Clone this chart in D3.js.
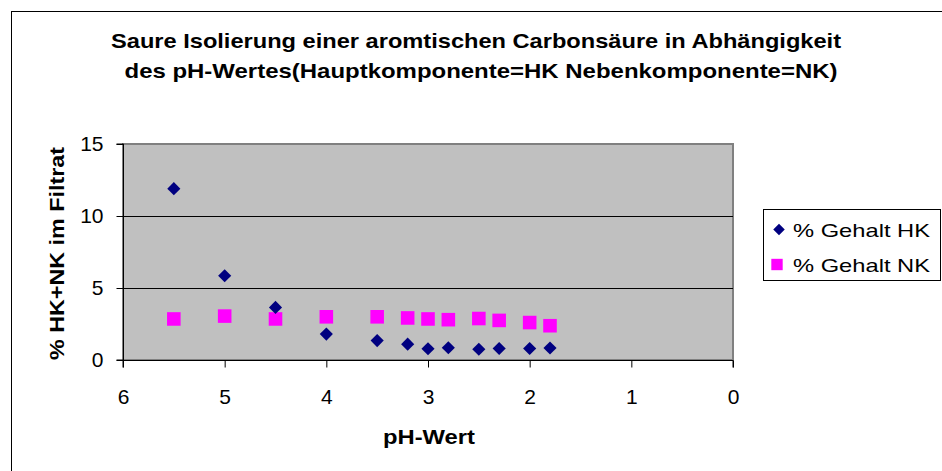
<!DOCTYPE html>
<html>
<head>
<meta charset="utf-8">
<script src="https://cdn.jsdelivr.net/npm/d3@7"></script>
<style>
  html, body { margin: 0; padding: 0; background: #fff; }
  svg { display: block; }
  text { font-family: "Liberation Sans", Arial, sans-serif; }
</style>
</head>
<body>
<svg id="chart" width="942" height="471"></svg>
<script>
// pH values of the filtrate
const phValues = [5.5, 5, 4.5, 4, 3.5, 3.2, 3, 2.8, 2.5, 2.3, 2, 1.8];
// % content of main component (HK)
const gehaltHK = [11.9, 5.85, 3.65, 1.8, 1.35, 1.1, 0.78, 0.85, 0.75, 0.8, 0.8, 0.83];
// % content of side component (NK)
const gehaltNK = [2.85, 3.05, 2.85, 3.0, 3.0, 2.92, 2.85, 2.8, 2.88, 2.75, 2.6, 2.38];
const xTicks = [6, 5, 4, 3, 2, 1, 0];
const yTicks = [0, 5, 10, 15];
const titleLines = [
  "Saure Isolierung einer aromtischen Carbonsäure in Abhängigkeit",
  "des pH-Wertes(Hauptkomponente=HK Nebenkomponente=NK)"
];
const seriesNames = ["% Gehalt HK", "% Gehalt NK"];

const svg = d3.select("#chart");
const plot = { left: 123, right: 733, top: 144, bottom: 360 };

const x = d3.scaleLinear().domain([6, 0]).range([plot.left, plot.right]);
const y = d3.scaleLinear().domain([0, 15]).range([plot.bottom, plot.top]);

// outer chart frame
svg.append("rect")
  .attr("x", 11.5).attr("y", 11.5)
  .attr("width", 940).attr("height", 470)
  .attr("fill", "#fff").attr("stroke", "#000").attr("stroke-width", 1);

// title (two centred lines)
const titleLayout = [
  { cx: 476, y: 48, len: 730 },
  { cx: 481, y: 78, len: 713 }
];
svg.append("g").selectAll("text").data(titleLines).join("text")
  .attr("x", (d, i) => titleLayout[i].cx)
  .attr("y", (d, i) => titleLayout[i].y)
  .attr("text-anchor", "middle")
  .attr("font-size", 20.5).attr("font-weight", "bold")
  .attr("textLength", (d, i) => titleLayout[i].len)
  .attr("lengthAdjust", "spacingAndGlyphs")
  .text(d => d);

// plot background
svg.append("rect")
  .attr("x", plot.left).attr("y", plot.top)
  .attr("width", plot.right - plot.left).attr("height", plot.bottom - plot.top)
  .attr("fill", "#c0c0c0").attr("stroke", "#808080").attr("stroke-width", 2);

// horizontal gridlines
svg.append("g").selectAll("line")
  .data(yTicks.filter(t => t > 0 && t < 15)).join("line")
  .attr("x1", plot.left).attr("x2", plot.right)
  .attr("y1", d => Math.round(y(d)) + 0.5).attr("y2", d => Math.round(y(d)) + 0.5)
  .attr("stroke", "#000").attr("stroke-width", 1);

// axes
const yAxis = d3.axisLeft(y).tickValues(yTicks).tickSize(7).tickPadding(13).tickFormat(d3.format("d"));
const xAxis = d3.axisBottom(x).tickValues(xTicks).tickSize(7).tickPadding(22).tickFormat(d3.format("d"));

const gy = svg.append("g").attr("transform", `translate(${plot.left + 0.5},0)`).call(yAxis);
const gx = svg.append("g").attr("transform", `translate(0,${plot.bottom + 0.5})`).call(xAxis);
[gx, gy].forEach(g => {
  g.select(".domain").attr("stroke", "#000").attr("stroke-width", 1);
  g.selectAll(".tick line").attr("stroke", "#000");
  g.selectAll(".tick text").attr("font-size", 21).attr("fill", "#000")
    .attr("font-family", "'Liberation Sans', Arial, sans-serif");
});
gy.select(".domain").attr("d", `M-7,${y(15)}H0V${y(0)}H-7`);
gx.select(".domain").attr("d", `M${x(6)},7V0H${x(0)}V7`);

// axis titles
svg.append("text")
  .attr("x", 429).attr("y", 444)
  .attr("text-anchor", "middle")
  .attr("font-size", 20.5).attr("font-weight", "bold")
  .attr("textLength", 92).attr("lengthAdjust", "spacingAndGlyphs")
  .text("pH-Wert");

svg.append("text")
  .attr("transform", "translate(64,253.5) rotate(-90)")
  .attr("text-anchor", "middle")
  .attr("font-size", 20.5).attr("font-weight", "bold")
  .attr("textLength", 213).attr("lengthAdjust", "spacingAndGlyphs")
  .text("% HK+NK im Filtrat");

// data markers
const diamond = d3.symbol().type(d3.symbolDiamond2).size(110);
const square = d3.symbol().type(d3.symbolSquare2).size(235);

svg.append("g").selectAll("path")
  .data(phValues.map((p, i) => [p, gehaltNK[i]])).join("path")
  .attr("transform", d => `translate(${x(d[0])},${y(d[1])})`)
  .attr("d", square)
  .attr("fill", "#ff00ff");

svg.append("g").selectAll("path")
  .data(phValues.map((p, i) => [p, gehaltHK[i]])).join("path")
  .attr("transform", d => `translate(${x(d[0])},${y(d[1])})`)
  .attr("d", diamond)
  .attr("fill", "#000080");

// legend
const lg = svg.append("g");
lg.append("rect")
  .attr("x", 763.5).attr("y", 209.5)
  .attr("width", 177).attr("height", 71)
  .attr("fill", "#fff").attr("stroke", "#000");
const legendY = [229.5, 264.5];
const rows = lg.selectAll("g.row").data(seriesNames).join("g")
  .attr("transform", (d, i) => `translate(0,${legendY[i]})`);
rows.append("path")
  .attr("transform", (d, i) => `translate(${i === 0 ? 779 : 777},0)`)
  .attr("d", (d, i) => i === 0 ? d3.symbol().type(d3.symbolDiamond2).size(85)() : d3.symbol().type(d3.symbolSquare2).size(165)())
  .attr("fill", (d, i) => i === 0 ? "#000080" : "#ff00ff");
rows.append("text")
  .attr("x", 793).attr("y", 7)
  .attr("font-size", 19)
  .attr("textLength", 137).attr("lengthAdjust", "spacingAndGlyphs")
  .text(d => d);
</script>
</body>
</html>
